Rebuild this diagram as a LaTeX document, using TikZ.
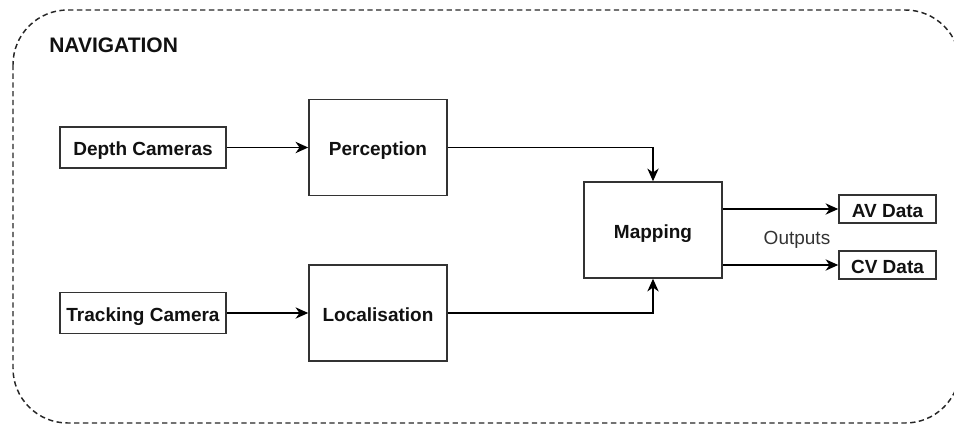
\documentclass[tikz,border=0pt]{standalone}
\usepackage{fontspec}
\setmainfont{Liberation Sans}
\usetikzlibrary{arrows.meta}

\definecolor{edgegray}{HTML}{333333}
\definecolor{txtgray}{HTML}{111111}
\definecolor{lblgray}{HTML}{333333}

\tikzset{
  blockbox/.style={draw=edgegray, line width=1.2pt, fill=white, inner sep=0pt,
    font=\fontsize{14.25}{17}\selectfont\bfseries, text=txtgray, align=center,
    text height=12pt, text depth=0pt},
  srcbox/.style={blockbox, minimum width=124.5pt, minimum height=31pt},
  procbox/.style={blockbox, minimum width=103.5pt, minimum height=72pt},
  outbox/.style={blockbox, minimum width=72.75pt, minimum height=21pt},
  flow/.style={draw=black, line width=1.1pt,
    -{Stealth[length=9.5pt, width=8.5pt, inset=3pt]}},
  frame/.style={draw=black!85, line width=1.1pt, dash pattern=on 4pt off 2.6pt,
    rounded corners=41pt}
}

\begin{document}
\begin{tikzpicture}[x=0.75pt, y=-0.75pt]
  \useasboundingbox (0,0) rectangle (954,425);

  % dashed navigation frame (its right side runs past the edge)
  \begin{scope}
    \clip (0,0) rectangle (954,425);
    \draw[frame] (13,10) rectangle (960,423);
  \end{scope}
  \node[anchor=base west, inner sep=0pt, font=\fontsize{15.75}{18}\selectfont\bfseries, text=txtgray]
    (title) at (49,52) {NAVIGATION};

  % sensors
  \node[srcbox] (depth) at (143,147.5) {Depth Cameras};
  \node[srcbox] (track) at (143,313) {Tracking Camera};

  % processing stages
  \node[procbox] (percep) at (378,147.5) {Perception};
  \node[procbox] (local)  at (378,313)   {Localisation};
  \node[procbox] (mapping) at (653,230)  {Mapping};

  % outputs
  \node[outbox] (av) at (887.5,209) {AV Data};
  \node[outbox] (cv) at (887.5,265) {CV Data};
  \node[anchor=base, inner sep=0pt, font=\fontsize{14.25}{17}\selectfont, text=lblgray]
    (outlbl) at (797,244) {Outputs};

  % connectors
  \draw[flow] (depth) -- (percep);
  \draw[flow] (track) -- (local);
  \draw[flow] (percep.east) -| (mapping.north);
  \draw[flow] (local.east) -| (mapping.south);
  \draw[flow] (mapping.east |- av.west) -- (av.west);
  \draw[flow] (mapping.east |- cv.west) -- (cv.west);
\end{tikzpicture}
\end{document}
